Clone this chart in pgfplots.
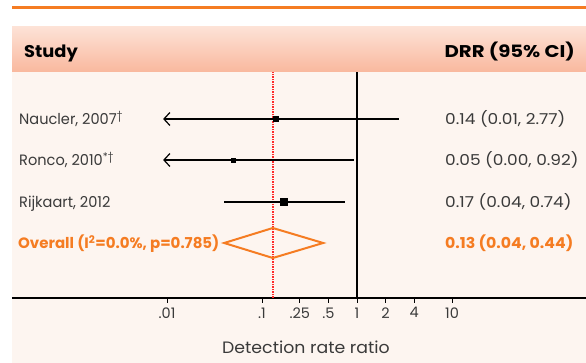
\documentclass[border=0pt]{standalone}
\usepackage{graphicx}
\usepackage{pgfplots}
\pgfplotsset{compat=1.18}
\usepackage{fontspec}
\setmainfont{Poppins}
\newfontfamily\tabfont{Poppins}[Numbers=Monospaced]
\usetikzlibrary{arrows.meta}
\definecolor{bg}{HTML}{FDF5F0}
\definecolor{hdtop}{HTML}{FDE2D6}
\definecolor{hdbot}{HTML}{F9B89E}
\definecolor{ora}{HTML}{F57C22}
\definecolor{txt}{HTML}{3A3A3A}
\definecolor{reddot}{HTML}{FF2A2A}
\newcommand{\sx}[2]{\scalebox{#1}[1]{#2}}
\begin{document}
\begin{tikzpicture}
\useasboundingbox (0,0) rectangle (586pt,363pt);
\begin{scope}[shift={(0pt,363pt)}, x=1pt, y=-1pt]
\fill[white] (0,0) rectangle (586,363);
\fill[bg] (12,72) rectangle (586,363);
\shade[top color=hdtop, bottom color=hdbot] (12,27) rectangle (586,72);
\draw[ora, line width=3pt] (12,8) -- (586,8);
\end{scope}
\begin{axis}[
  at={(12pt,65pt)}, anchor=south west, scale only axis,
  width=574pt, height=298pt,
  xmode=log, xmin=2.335e-4, xmax=257.4, ymin=0, ymax=298,
  axis x line=bottom, axis y line=none,
  x axis line style={-, line width=1.2pt, black},
  xtick={0.01,0.1,0.25,0.5,1,2,4,10},
  xticklabels={.01,.1,.25,.5,1,2,4,10},
  xminorticks=false,
  xtick align=outside, major tick length=5pt,
  tick style={black, line width=0.8pt},
  xticklabel style={font=\fontsize{14.5}{14.5}\selectfont, text=txt, yshift=-1pt},
  clip=false,
]
\addplot[black, line width=1.3pt] coordinates {(1,0) (1,226)};
\addplot[reddot, densely dotted, line width=1.5pt] coordinates {(0.13,0) (0.13,226)};
% confidence intervals
\addplot[black, line width=1.2pt, >={Straight Barb[length=6pt,width=13pt]}, <-] coordinates {(0.0091,179) (2.77,179)};
\addplot[black, line width=1.2pt, >={Straight Barb[length=6pt,width=13pt]}, <-] coordinates {(0.0091,138) (0.92,138)};
\addplot[black, line width=1.2pt] coordinates {(0.04,96) (0.74,96)};
% point estimates
\addplot[only marks, mark=square*, mark size=2.5pt, black] coordinates {(0.14,179)};
\addplot[only marks, mark=square*, mark size=2pt, black] coordinates {(0.05,138)};
\addplot[only marks, mark=square*, mark size=3.5pt, black] coordinates {(0.17,96)};
% overall diamond
\addplot[ora, line width=2pt, line join=miter] coordinates {(0.04,55) (0.13,70) (0.44,55) (0.13,40)} -- cycle;
\end{axis}
\begin{scope}[shift={(0pt,363pt)}, x=1pt, y=-1pt]
\node[anchor=base west, inner sep=0, font=\fontsize{17}{17}\selectfont\bfseries, text=black] at (24,58) {\sx{1.05}{Study}};
\node[anchor=base east, inner sep=0, font=\fontsize{17}{17}\selectfont\bfseries, text=black] at (575,58) {\sx{1.16}{DRR (95\% CI)}};
\begin{scope}[every node/.style={anchor=base west, inner sep=0, font=\fontsize{15}{15}\selectfont, text=txt}]
\node at (19,125) {\sx{0.97}{Naucler, 2007\textsuperscript{\textdagger}}};
\node at (19,166) {\sx{0.97}{Ronco, 2010\textsuperscript{*\textdagger}}};
\node at (19,208) {\sx{0.97}{Rijkaart, 2012}};
\node[font=\fontsize{15}{15}\selectfont\bfseries, text=ora] at (18,249) {Overall (I\textsuperscript{2}=0.0\%, p=0.785)};
\node[font=\fontsize{15}{15}\selectfont\tabfont] at (445,125) {\sx{1.13}{0.14 (0.01, 2.77)}};
\node[font=\fontsize{15}{15}\selectfont\tabfont] at (445,166) {\sx{1.13}{0.05 (0.00, 0.92)}};
\node[font=\fontsize{15}{15}\selectfont\tabfont] at (445,208) {\sx{1.13}{0.17 (0.04, 0.74)}};
\node[font=\fontsize{15}{15}\selectfont\tabfont\bfseries, text=ora] at (445,249) {\sx{1.05}{0.13 (0.04, 0.44)}};
\end{scope}
\node[anchor=center, inner sep=0, font=\fontsize{16.5}{16.5}\selectfont, text=txt] at (306,347) {\sx{1.05}{Detection rate ratio}};
\end{scope}
\end{tikzpicture}
\end{document}
